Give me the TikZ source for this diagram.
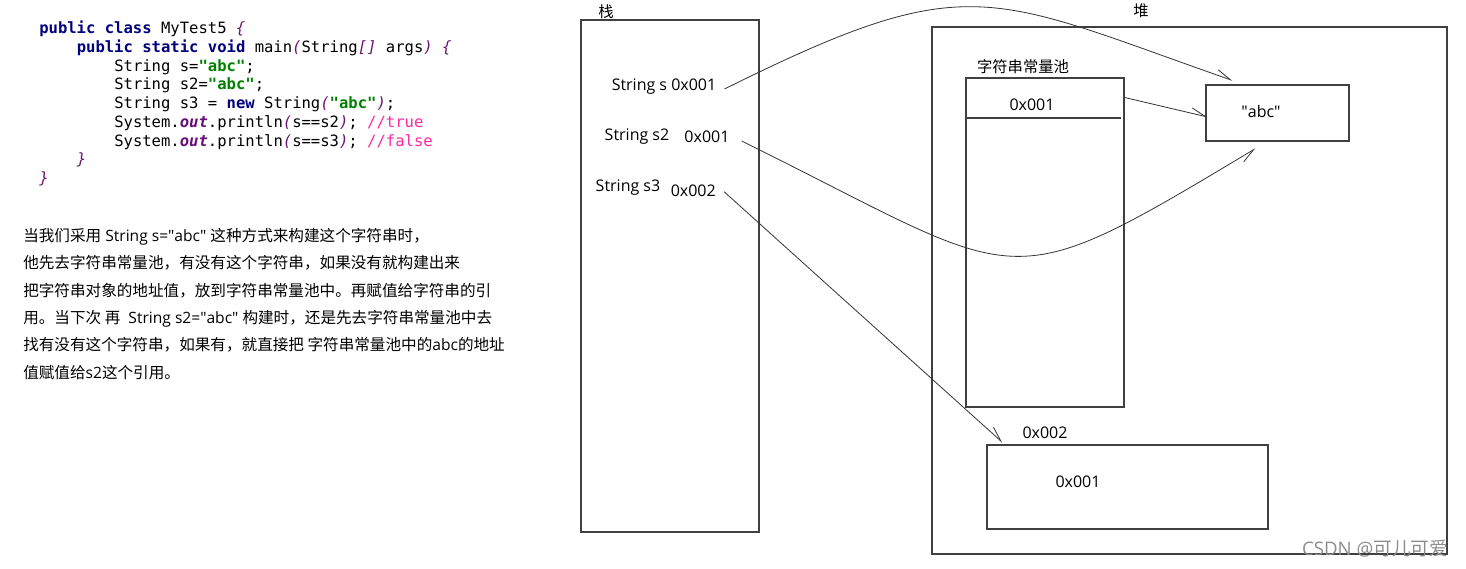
\documentclass[tikz,border=0pt]{standalone}
\usepackage{amsmath}
\usepackage{xcolor}
\usepackage{tikz}
\usepackage{fontspec}
\setmainfont{Open Sans}
\newfontfamily\cjk{Noto Sans CJK SC}
\newfontfamily\codefont{DejaVu Sans Mono}
\usetikzlibrary{positioning,fit,calc,arrows.meta}

\definecolor{kwblue}{RGB}{0,0,128}
\definecolor{strgreen}{RGB}{0,128,0}
\definecolor{fieldpurple}{RGB}{102,14,122}
\definecolor{bracepurple}{RGB}{110,20,110}
\definecolor{cmtpink}{RGB}{255,40,160}

\newcommand{\kw}[1]{{\bfseries\color{kwblue}#1}}
\newcommand{\jstr}[1]{{\bfseries\color{strgreen}#1}}
\newcommand{\fld}[1]{{\bfseries\itshape\color{fieldpurple}#1}}
\newcommand{\brc}[1]{{\itshape\color{bracepurple}#1}}
\newcommand{\cmt}[1]{{\color{cmtpink}#1}}
\newcommand{\qabc}{\textquotedbl abc\textquotedbl}

\begin{document}
\begin{tikzpicture}[x=0.75pt, y=-0.75pt,
  box/.style={draw=black!75, line width=0.8pt, inner sep=0pt},
  lbl/.style={inner sep=0pt, font=\fontsize{12}{14}\selectfont},
  zh/.style={inner sep=0pt, font=\cjk\fontsize{11.5}{13}\selectfont},
  codeln/.style={inner sep=0pt, anchor=base west, font=\codefont\fontsize{11.67}{14}\selectfont},
  txtln/.style={inner sep=0pt, anchor=base west, font=\fontsize{11.7}{14}\selectfont},
  ptr/.style={draw=black!80, line width=0.6pt, -{Straight Barb[harpoon, angle'=40, length=11pt]}},
  ptrR/.style={draw=black!80, line width=0.6pt, -{Straight Barb[harpoon, swap, angle'=40, length=11pt]}}]

\useasboundingbox (0,0) rectangle (1466,568);

% source code
\node (c1) [codeln] at (39,33) {\kw{public class} MyTest5 \brc{\{}};
\node (c2) [codeln] at (76.5,52) {\kw{public static void} main\brc{(}String\brc{[]} args\brc{)} \brc{\{}};
\node (c3) [codeln] at (114,71) {String s=\jstr{"abc"};};
\node (c4) [codeln] at (114,89.5) {String s2=\jstr{"abc"};};
\node (c5) [codeln] at (114,108) {String s3 = \kw{new} String\brc{(}\jstr{"abc"}\brc{)};};
\node (c6) [codeln] at (114,127) {System.\fld{out}.println\brc{(}s==s2\brc{)}; \cmt{//true}};
\node (c7) [codeln] at (114,146) {System.\fld{out}.println\brc{(}s==s3\brc{)}; \cmt{//false}};
\node (c8) [codeln] at (76.5,164.5) {\brc{\}}};
\node (c9) [codeln] at (39,183) {\brc{\}}};

% explanation
\node (t1) [txtln] at (23,241) {{\cjk 当我们采用} String s=\qabc{} {\cjk 这种方式来构建这个字符串时，}};
\node (t2) [txtln] at (23,268) {\cjk 他先去字符串常量池，有没有这个字符串，如果没有就构建出来};
\node (t3) [txtln] at (23,296) {\cjk 把字符串对象的地址值，放到字符串常量池中。再赋值给字符串的引};
\node (t4) [txtln] at (23,323) {{\cjk 用。当下次 再}\ \ String s2=\qabc{} {\cjk 构建时，还是先去字符串常量池中去}};
\node (t5) [txtln] at (23,350) {{\cjk 找有没有这个字符串，如果有，就直接把 字符串常量池中的}abc{\cjk 的地址}};
\node (t6) [txtln] at (23,378) {{\cjk 值赋值给}s2{\cjk 这个引用。}};

% stack and heap
\node (stack) [box, fit={(581,20) (759,532)}] {};
\node (heap) [box, fit={(932,27) (1447,554)}] {};
\node (pool) [box, fit={(966,78) (1124,407)}] {};
\node (abcbox) [box, fit={(1206,85) (1349,141)}] {};
\node (objbox) [box, fit={(987,445) (1268,529)}] {};
\draw[box] (967,118) -- (1121,118);

\node (stacklbl) [zh] at (606,12) {栈};
\node (heaplbl) [zh] at (1141,11) {堆};
\node (poollbl) [zh] at (1023,67) {字符串常量池};
\node (poolref) [lbl] at (1032,105) {0x001};
\node (abctxt) [lbl] at (1261,111) {\qabc};
\node (sref) [lbl] at (664,87) {String s 0x001};
\node (s2name) [lbl] at (637,137) {String s2};
\node (s2addr) [lbl, right=11pt of s2name] {0x001};
\node (s3name) [lbl] at (628,188) {String s3};
\node (s3addr) [lbl, right=7.5pt of s3name, yshift=-2pt] {0x002};
\node (objaddr) [lbl] at (1045,433) {0x002};
\node (objval) [lbl] at (1078,482) {0x001};
\node (mark) [inner sep=0pt, text=black!45, font=\fontsize{14}{16}\selectfont] at (1375,549) {CSDN @{\cjk 可儿可爱}};

% references
\draw[ptr] ($(sref.east)+(8,2)$) .. controls (970,-33) and (988,-5) .. ($(abcbox.north west)+(27,-4)$);
\draw[ptr] ($(pool.north east)+(0,20)$) -- ($(abcbox.west)+(2,4)$);
\draw[ptrR] ($(s2addr.east)+(12,4)$) .. controls (1029,283) and (998,303) .. ($(abcbox.south west)+(50,7)$);
\draw[ptr] ($(s3addr.east)+(8,1)$) -- ($(objbox.north west)+(16,-2)$);
\end{tikzpicture}
\end{document}
